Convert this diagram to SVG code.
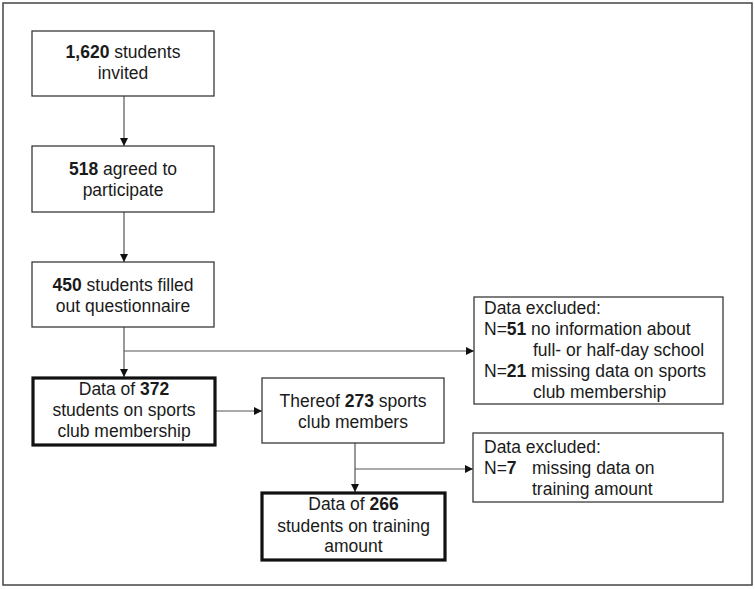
<svg xmlns="http://www.w3.org/2000/svg" width="755" height="589" viewBox="0 0 755 589">
<defs>
<marker id="ah" viewBox="0 0 10 10" refX="10" refY="5" markerWidth="8" markerHeight="8" markerUnits="userSpaceOnUse" orient="auto">
<path d="M0,0 L10,5 L0,10 Z" fill="#111"/>
</marker>
<style>
text{font-family:"Liberation Sans",Arial,sans-serif;font-size:17.5px;fill:#1a1a1a}
.c{text-anchor:middle}
.b{font-weight:bold}
.box{fill:#fff;stroke:#3a3a3a;stroke-width:1.3}
.thick{fill:#fff;stroke:#111;stroke-width:3.2}
.ln{fill:none;stroke:#555;stroke-width:1.2}
</style>
</defs>
<rect x="3" y="3" width="749" height="582" fill="#fff" stroke="#444" stroke-width="1.5"/>
<g id="connectors">
<line class="ln" x1="124" y1="96" x2="124" y2="146" marker-end="url(#ah)"/>
<line class="ln" x1="124" y1="212" x2="124" y2="262" marker-end="url(#ah)"/>
<line class="ln" x1="124" y1="327" x2="124" y2="377" marker-end="url(#ah)"/>
<line class="ln" x1="124" y1="351" x2="474" y2="351" marker-end="url(#ah)"/>
<line class="ln" x1="216" y1="411" x2="262" y2="411" marker-end="url(#ah)"/>
<line class="ln" x1="355" y1="443" x2="355" y2="492" marker-end="url(#ah)"/>
<line class="ln" x1="355" y1="469" x2="473" y2="469" marker-end="url(#ah)"/>
</g>
<g id="invited">
<rect class="box" x="32" y="31" width="182" height="65"/>
<text class="c" x="123" y="58"><tspan class="b">1,620</tspan> students</text>
<text class="c" x="123" y="79">invited</text>
</g>
<g id="agreed">
<rect class="box" x="32" y="146" width="182" height="66"/>
<text class="c" x="123" y="175"><tspan class="b">518</tspan> agreed to</text>
<text class="c" x="123" y="196">participate</text>
</g>
<g id="filled">
<rect class="box" x="32" y="262" width="182" height="65"/>
<text class="c" x="123" y="291"><tspan class="b">450</tspan> students filled</text>
<text class="c" x="123" y="312">out questionnaire</text>
</g>
<g id="data372">
<rect class="thick" x="33" y="378" width="182" height="67"/>
<text class="c" x="124" y="395">Data of <tspan class="b">372</tspan></text>
<text class="c" x="124" y="416">students on sports</text>
<text class="c" x="124" y="437">club membership</text>
</g>
<g id="thereof">
<rect class="box" x="262" y="378" width="182" height="65"/>
<text class="c" x="353" y="407">Thereof <tspan class="b">273</tspan> sports</text>
<text class="c" x="353" y="428">club members</text>
</g>
<g id="excluded1">
<rect class="box" x="474" y="297" width="249" height="107"/>
<text x="484" y="314">Data excluded:</text>
<text x="484" y="335">N=<tspan class="b">51</tspan><tspan x="531">no information about</tspan></text>
<text x="533" y="356">full- or half-day school</text>
<text x="484" y="377">N=<tspan class="b">21</tspan><tspan x="531">missing data on sports</tspan></text>
<text x="533" y="398">club membership</text>
</g>
<g id="excluded2">
<rect class="box" x="473" y="433" width="250" height="69"/>
<text x="484" y="453">Data excluded:</text>
<text x="484" y="474">N=<tspan class="b">7</tspan><tspan x="532">missing data on</tspan></text>
<text x="532" y="495">training amount</text>
</g>
<g id="data266">
<rect class="thick" x="262" y="493" width="183" height="67"/>
<text class="c" x="353.5" y="510">Data of <tspan class="b">266</tspan></text>
<text class="c" x="353.5" y="532">students on training</text>
<text class="c" x="353.5" y="552">amount</text>
</g>
</svg>
